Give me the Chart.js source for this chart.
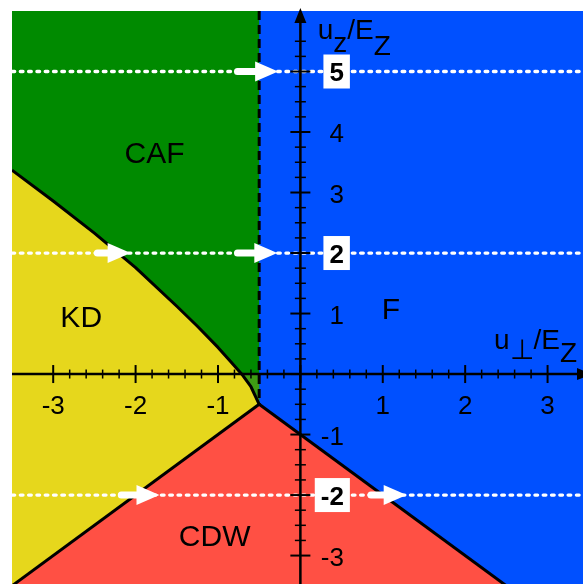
<!DOCTYPE html>
<html>
<head>
<meta charset="utf-8">
<script src="https://cdn.jsdelivr.net/npm/chart.js@4.4.1/dist/chart.umd.min.js"></script>
<style>
  html, body { margin: 0; padding: 0; background: #fff; }
  #wrap { width: 583px; height: 584px; }
</style>
</head>
<body>
<div id="wrap"><canvas id="phaseChart" width="583" height="584"></canvas></div>
<script>
// axis ranges: u_perp/E_Z horizontally, u_z/E_Z vertically
const xRange = [-3.5, 3.43];
const yRange = [-3.47, 6];

// KD / CAF boundary
const kdCafX = [-3.5, -3.0, -2.5, -2.0, -1.5, -1.25, -1.0, -0.85, -0.7, -0.6, -0.5];
const kdCafY = [3.37, 2.86, 2.33, 1.76, 1.12, 0.79, 0.44, 0.21, -0.02, -0.21, -0.5];

// straight CDW boundaries (left: KD/CDW, right: CDW/F)
const cdwLeftX = [-3.5, -0.5];
const cdwLeftY = [-3.5, -0.5];
const cdwRightX = [-0.5, 2.5];
const cdwRightY = [-0.5, -3.5];

// dashed CAF / F boundary
const cafFX = [-0.5, -0.5];
const cafFY = [6, -0.5];

// white dotted cuts and the arrows on them
const cutY = [5, 2, -2];
const arrowY = [5, 2, 2, -2, -2];
const arrowFrom = [-0.8, -2.5, -0.8, -2.21, 0.82];
const arrowTo = [-0.27, -2.06, -0.28, -1.71, 1.29];

// phase names and where they sit
const phaseNames = ["CAF", "KD", "F", "CDW"];
const phaseX = [-1.77, -2.66, 1.1, -1.04];
const phaseY = [3.66, 0.96, 1.08, -2.66];

// tick labels
const xTickValues = [-3, -2, -1, 1, 2, 3];
const yTickValues = [4, 3, 1, -1, -3];
const yBoxedValues = [5, 2, -2];

const colors = {
  F: "#0050ff",
  CAF: "#008a00",
  KD: "#e6d71c",
  CDW: "#ff5044",
  overlap: "#3e9c14",
};

function zip(xs, ys) {
  return xs.map((x, i) => ({ x: x, y: ys[i] }));
}

const curve = zip(kdCafX, kdCafY);
const curveBelow = curve.filter((p) => p.y <= 0);

// region polygons built from the boundaries
const fRegion = [
  { x: xRange[0], y: yRange[0] },
  { x: xRange[0], y: yRange[1] },
  { x: xRange[1], y: yRange[1] },
  { x: xRange[1], y: yRange[0] },
];
const cafRegion = [
  { x: xRange[0], y: cafFY[0] },
  ...zip(cafFX, cafFY),
  ...curve.slice().reverse(),
];
const kdRegion = [...curve, { x: cdwLeftX[0], y: cdwLeftY[0] }];
const cdwRegion = [...zip(cdwLeftX, cdwLeftY), { x: cdwRightX[1], y: cdwRightY[1] }];
const overlapRegion = [{ x: -0.715, y: 0 }, ...curveBelow, { x: cafFX[0], y: 0 }];

function region(data, color, order) {
  return {
    data: data,
    backgroundColor: color,
    borderWidth: 0,
    fill: "shape",
    pointRadius: 0,
    order: order,
  };
}

function boundary(data, dash, order) {
  return {
    data: data,
    borderColor: "#000",
    borderWidth: 3,
    borderDash: dash,
    borderJoinStyle: "round",
    fill: false,
    pointRadius: 0,
    order: order,
  };
}

const cutSets = cutY.map((v) => ({
  data: [
    { x: xRange[0], y: v },
    { x: xRange[1], y: v },
  ],
  borderColor: "#fff",
  borderWidth: 3.3,
  borderDash: [2.7, 5.6],
  borderCapStyle: "round",
  fill: false,
  pointRadius: 0,
  order: 1,
}));

const FONT = '"Liberation Sans", Arial, Helvetica, sans-serif';

// axes through the origin, ticks, labels, arrows and phase names
const decorPlugin = {
  id: "phase_decor",
  afterDatasetsDraw(chart) {
    const { ctx, chartArea: area, scales } = chart;
    const sx = scales.x;
    const sy = scales.y;
    const x0 = sx.getPixelForValue(0);
    const y0 = sy.getPixelForValue(0);

    ctx.save();

    // arrows along the cuts
    ctx.fillStyle = "#fff";
    ctx.strokeStyle = "#fff";
    ctx.lineCap = "round";
    arrowY.forEach((v, i) => {
      const py = sy.getPixelForValue(v);
      const tail = sx.getPixelForValue(arrowFrom[i]);
      const tip = sx.getPixelForValue(arrowTo[i]);
      ctx.lineWidth = 7;
      ctx.beginPath();
      ctx.moveTo(tail + 3, py);
      ctx.lineTo(tip - 20, py);
      ctx.stroke();
      ctx.beginPath();
      ctx.moveTo(tip, py);
      ctx.lineTo(tip - 23, py - 10);
      ctx.lineTo(tip - 23, py + 10);
      ctx.closePath();
      ctx.fill();
    });

    // axis lines
    ctx.strokeStyle = "#000";
    ctx.fillStyle = "#000";
    ctx.lineCap = "butt";
    ctx.lineWidth = 2.5;
    ctx.beginPath();
    ctx.moveTo(area.left, y0);
    ctx.lineTo(area.right, y0);
    ctx.moveTo(x0, area.bottom);
    ctx.lineTo(x0, area.top + 8);
    ctx.stroke();
    ctx.beginPath();
    ctx.moveTo(area.right + 9, y0);
    ctx.lineTo(area.right - 6, y0 - 6);
    ctx.lineTo(area.right - 6, y0 + 6);
    ctx.closePath();
    ctx.fill();
    ctx.beginPath();
    ctx.moveTo(x0, area.top - 3);
    ctx.lineTo(x0 - 6, area.top + 12);
    ctx.lineTo(x0 + 6, area.top + 12);
    ctx.closePath();
    ctx.fill();

    // x ticks every 0.2, y ticks every 0.25
    for (let i = -15; i <= 15; i++) {
      const px = sx.getPixelForValue(i / 5);
      const major = i % 5 === 0;
      const len = major ? 9 : 4.5;
      ctx.lineWidth = major ? 2 : 1.5;
      ctx.beginPath();
      ctx.moveTo(px, y0 - len);
      ctx.lineTo(px, y0 + len);
      ctx.stroke();
    }
    for (let i = -12; i <= 22; i++) {
      const py = sy.getPixelForValue(i / 4);
      const major = i % 4 === 0;
      const len = major ? 10 : 5.5;
      ctx.lineWidth = major ? 2 : 1.5;
      ctx.beginPath();
      ctx.moveTo(x0 - len, py);
      ctx.lineTo(x0 + len, py);
      ctx.stroke();
    }

    // tick labels
    ctx.font = "26px " + FONT;
    ctx.textAlign = "center";
    ctx.textBaseline = "alphabetic";
    xTickValues.forEach((v) => {
      ctx.fillText(String(v), sx.getPixelForValue(v), y0 + 40);
    });
    ctx.textAlign = "right";
    yTickValues.forEach((v) => {
      ctx.fillText(String(v), x0 + 43.5, sy.getPixelForValue(v) + 10);
    });
    ctx.font = "bold 26px " + FONT;
    yBoxedValues.forEach((v) => {
      const py = sy.getPixelForValue(v);
      const w = ctx.measureText(String(v)).width;
      ctx.fillStyle = "#fff";
      ctx.fillRect(x0 + 49.5 - w - 12, py - 17, w + 12, 34);
      ctx.fillStyle = "#000";
      ctx.fillText(String(v), x0 + 43.5, py + 9.5);
    });

    // phase names
    ctx.font = "30px " + FONT;
    ctx.textAlign = "center";
    phaseNames.forEach((name, i) => {
      ctx.fillText(name, sx.getPixelForValue(phaseX[i]), sy.getPixelForValue(phaseY[i]) + 10.7);
    });

    // axis titles, written piece by piece for the subscripts
    ctx.font = "28px " + FONT;
    ctx.textAlign = "left";
    const titles = [
      { x: 0.21, y: 5.54, parts: [["u", 0], ["z", 13], ["/", 0], ["E", 0], ["Z", 16]] },
      { x: 2.35, y: 0.41, parts: [["u", 0], ["\u22A5", 10], ["/", 0], ["E", 0], ["Z", 13]] },
    ];
    titles.forEach((t) => {
      let px = sx.getPixelForValue(t.x);
      const py = sy.getPixelForValue(t.y);
      t.parts.forEach(([s, dy]) => {
        ctx.fillText(s, px, py + dy);
        px += ctx.measureText(s).width;
      });
    });

    ctx.restore();
  },
};

new Chart(document.getElementById("phaseChart"), {
  type: "line",
  data: {
    datasets: [
      ...cutSets,
      boundary(curve, [], 2),
      boundary(zip(cdwLeftX, cdwLeftY), [], 2),
      boundary(zip(cdwRightX, cdwRightY), [], 2),
      boundary(zip(cafFX, cafFY), [9, 5], 2),
      region(overlapRegion, colors.overlap, 5),
      region(cdwRegion, colors.CDW, 6),
      region(kdRegion, colors.KD, 7),
      region(cafRegion, colors.CAF, 8),
      region(fRegion, colors.F, 9),
    ],
  },
  options: {
    responsive: false,
    devicePixelRatio: 1,
    animation: false,
    layout: { padding: { left: 12, top: 11, right: 0, bottom: 0 } },
    scales: {
      x: { type: "linear", min: xRange[0], max: xRange[1], display: false },
      y: { type: "linear", min: yRange[0], max: yRange[1], display: false },
    },
    plugins: {
      legend: { display: false },
      tooltip: { enabled: false },
    },
  },
  plugins: [decorPlugin],
});
</script>
</body>
</html>
